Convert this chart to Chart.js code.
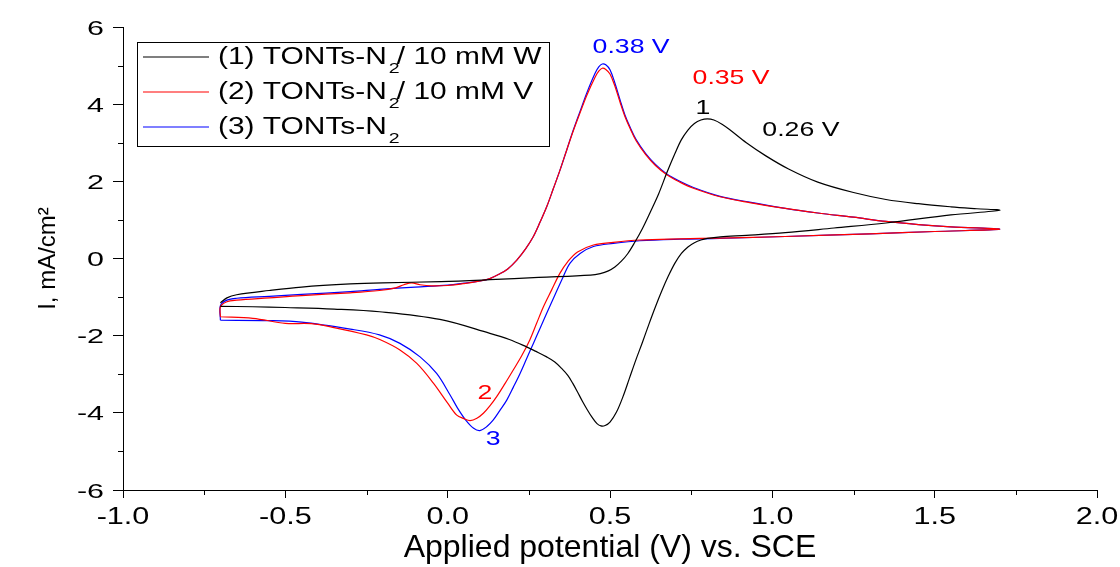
<!DOCTYPE html>
<html>
<head>
<meta charset="utf-8">
<script src="https://cdn.jsdelivr.net/npm/chart.js@4.4.0/dist/chart.umd.min.js"></script>
<style>
  body { margin: 0; background: #fff; }
  #wrap { width: 1120px; height: 567px; }
</style>
</head>
<body>
<div id="wrap"><canvas id="cvChart"></canvas></div>
<script>
// curve 1: TONTs-N2 / 10 mM W (forward scan, then reverse)
const v1 = [-0.70,-0.68,-0.65,-0.55,-0.45,-0.30,-0.20,-0.02,0.13,0.28,
            0.44,0.47,0.495,0.515,0.535,0.555,0.575,0.60,0.625,0.65,
            0.675,0.70,0.72,0.74,0.76,0.78,0.80,0.82,0.845,0.87,
            0.92,0.98,1.05,1.14,1.25,1.35,1.45,1.55,1.63,1.70,
            1.55,1.35,1.19,1.04,0.92,0.84,0.80,0.78,0.76,0.74,
            0.72,0.70,0.68,0.66,0.64,0.62,0.60,0.58,0.56,0.54,
            0.52,0.50,0.485,0.472,0.46,0.445,0.43,0.415,0.40,0.385,
            0.37,0.35,0.33,0.305,0.27,0.243,0.19,0.13,-0.024,-0.21,
            -0.35,-0.50,-0.60,-0.70];
const i1 = [-1.15,-1.02,-0.94,-0.83,-0.74,-0.66,-0.63,-0.60,-0.55,-0.49,
            -0.43,-0.39,-0.32,-0.22,-0.07,0.13,0.40,0.78,1.22,1.68,
            2.22,2.72,3.08,3.33,3.50,3.59,3.62,3.59,3.48,3.33,
            3.00,2.66,2.32,1.98,1.71,1.53,1.42,1.34,1.29,1.25,
            1.13,0.92,0.79,0.67,0.60,0.56,0.52,0.48,0.41,0.30,
            0.13,-0.12,-0.45,-0.83,-1.25,-1.70,-2.17,-2.62,-3.10,-3.58,
            -3.98,-4.24,-4.33,-4.34,-4.28,-4.12,-3.92,-3.70,-3.46,-3.23,
            -3.03,-2.84,-2.68,-2.55,-2.40,-2.29,-2.10,-1.94,-1.58,-1.38,
            -1.31,-1.27,-1.25,-1.24];

// curve 2: TONTs-N2 / 10 mM V
const v2 = [-0.70,-0.70,-0.68,-0.65,-0.55,-0.45,-0.30,-0.21,-0.16,-0.135,
            -0.111,-0.085,-0.05,0.00,0.05,0.10,0.13,0.16,0.185,0.213,
            0.24,0.264,0.285,0.305,0.325,0.346,0.367,0.387,0.408,0.428,
            0.454,0.466,0.476,0.487,0.50,0.515,0.531,0.546,0.562,0.58,
            0.61,0.64,0.675,0.715,0.757,0.839,0.93,1.04,1.14,1.25,
            1.35,1.45,1.55,1.70,
            1.50,1.30,1.04,0.839,0.716,0.592,0.51,0.449,0.40,0.37,
            0.346,0.32,0.295,0.274,0.253,0.228,0.202,0.176,0.151,0.13,
            0.11,0.09,0.069,0.05,0.028,0.00,-0.044,-0.095,-0.147,-0.209,
            -0.25,-0.35,-0.42,-0.50,-0.60,-0.70];
const i2 = [-1.51,-1.25,-1.12,-1.08,-1.02,-0.96,-0.89,-0.83,-0.76,-0.68,
            -0.63,-0.68,-0.71,-0.70,-0.65,-0.58,-0.52,-0.40,-0.27,-0.04,
            0.25,0.57,0.95,1.34,1.80,2.29,2.82,3.31,3.78,4.22,
            4.70,4.86,4.93,4.90,4.78,4.47,4.05,3.68,3.37,3.06,
            2.69,2.41,2.17,1.98,1.82,1.60,1.45,1.30,1.18,1.07,
            0.96,0.88,0.82,0.76,
            0.70,0.64,0.57,0.53,0.51,0.48,0.42,0.35,0.17,-0.08,
            -0.38,-0.82,-1.25,-1.68,-2.11,-2.52,-2.89,-3.25,-3.58,-3.82,
            -4.01,-4.14,-4.20,-4.15,-4.06,-3.75,-3.23,-2.72,-2.37,-2.10,
            -1.98,-1.79,-1.69,-1.68,-1.55,-1.51];

// curve 3: TONTs-N2
const v3 = [-0.70,-0.70,-0.68,-0.65,-0.55,-0.45,-0.30,-0.21,-0.10,0.00,
            0.05,0.10,0.13,0.16,0.185,0.213,0.24,0.264,0.285,0.305,
            0.325,0.346,0.367,0.387,0.408,0.428,0.454,0.466,0.476,0.487,
            0.50,0.515,0.531,0.546,0.562,0.58,0.61,0.64,0.675,0.715,
            0.757,0.839,0.93,1.04,1.14,1.25,1.35,1.45,1.55,1.70,
            1.50,1.30,1.04,0.839,0.716,0.592,0.51,0.449,0.408,0.377,
            0.356,0.33,0.305,0.284,0.264,0.243,0.223,0.202,0.182,0.16,
            0.14,0.12,0.099,0.08,0.055,0.03,0.007,-0.034,-0.085,-0.147,
            -0.21,-0.30,-0.45,-0.55,-0.70];
const i3 = [-1.60,-1.22,-1.08,-1.03,-0.98,-0.93,-0.86,-0.80,-0.74,-0.69,
            -0.64,-0.58,-0.52,-0.40,-0.27,-0.04,0.25,0.57,0.95,1.34,
            1.80,2.29,2.82,3.33,3.82,4.28,4.80,4.97,5.04,5.02,
            4.89,4.55,4.11,3.72,3.40,3.09,2.72,2.44,2.19,2.00,
            1.84,1.61,1.46,1.30,1.18,1.07,0.96,0.88,0.82,0.76,
            0.70,0.64,0.57,0.52,0.50,0.46,0.39,0.31,0.13,-0.12,
            -0.47,-0.95,-1.42,-1.82,-2.20,-2.60,-2.98,-3.34,-3.67,-3.95,
            -4.19,-4.36,-4.46,-4.40,-4.18,-3.87,-3.53,-2.98,-2.55,-2.20,
            -1.98,-1.83,-1.65,-1.61,-1.60];

// legend names: [text, subscript, text after]
const seriesNames = [['(1) TONTs-N', '2', '/ 10 mM W'],
                     ['(2) TONTs-N', '2', '/ 10 mM V'],
                     ['(3) TONTs-N', '2', '']];
const seriesColors = ['#000000', '#ff0000', '#0000ff'];

// peak notes, anchored in data units
const noteText  = ['0.38 V', '0.35 V', '1', '0.26 V', '2', '3'];
const noteV     = [0.565, 0.873, 0.786, 1.088, 0.115, 0.140];
const noteI     = [5.53, 4.73, 3.93, 3.38, -3.46, -4.63];
const noteColor = ['#0000ff', '#ff0000', '#000000', '#000000', '#ff0000', '#0000ff'];

const FONT = '"Liberation Sans", Arial, sans-serif';

function pts(vs, is) {
    return vs.map((v, k) => ({x: v, y: is[k]}));
}

// the original figure uses horizontally stretched Arial
function wideText(ctx, txt, x, y, size, sx, align, color) {
    ctx.save();
    ctx.translate(x, y);
    ctx.scale(sx, 1);
    ctx.font = size + 'px ' + FONT;
    ctx.textAlign = align;
    ctx.textBaseline = 'alphabetic';
    ctx.fillStyle = color;
    ctx.fillText(txt, 0, 0);
    const w = ctx.measureText(txt).width * sx;
    ctx.restore();
    return w;
}

const axisText = {
    id: 'axisText',
    afterDraw(chart) {
        const {ctx, chartArea, scales: {x, y}} = chart;
        ctx.save();
        ctx.strokeStyle = '#000';
        ctx.lineWidth = 1;
        // minor ticks halfway between the major ones
        for (let k = 0; k < y.ticks.length - 1; k++) {
            const py = Math.round(y.getPixelForValue((y.ticks[k].value + y.ticks[k + 1].value) / 2)) + 0.5;
            ctx.beginPath();
            ctx.moveTo(chartArea.left - 5, py);
            ctx.lineTo(chartArea.left, py);
            ctx.stroke();
        }
        for (let k = 0; k < x.ticks.length - 1; k++) {
            const px = Math.round(x.getPixelForValue((x.ticks[k].value + x.ticks[k + 1].value) / 2)) + 0.5;
            ctx.beginPath();
            ctx.moveTo(px, chartArea.bottom);
            ctx.lineTo(px, chartArea.bottom + 5);
            ctx.stroke();
        }
        ctx.restore();

        y.ticks.forEach(t => {
            const py = y.getPixelForValue(t.value);
            wideText(ctx, String(t.value), chartArea.left - 19, py + 7.5, 21, 1.45, 'right', '#000');
        });
        x.ticks.forEach(t => {
            const px = x.getPixelForValue(t.value);
            wideText(ctx, t.value.toFixed(1), px, chartArea.bottom + 34, 23, 1.33, 'center', '#000');
        });

        noteText.forEach((txt, k) => {
            const px = x.getPixelForValue(noteV[k]);
            const py = y.getPixelForValue(noteI[k]);
            wideText(ctx, txt, px, py + 7.5, 21, 1.27, 'center', noteColor[k]);
        });
    }
};

const legendBox = {
    id: 'legendBox',
    afterDraw(chart) {
        const ctx = chart.ctx;
        ctx.save();
        ctx.fillStyle = '#fff';
        ctx.fillRect(137.5, 42.5, 412, 104);
        ctx.strokeStyle = '#000';
        ctx.lineWidth = 1;
        ctx.strokeRect(137.5, 42.5, 412, 104);
        seriesNames.forEach((parts, k) => {
            const y = 57 + k * 35;
            ctx.strokeStyle = seriesColors[k];
            ctx.lineWidth = 1.2;
            ctx.beginPath();
            ctx.moveTo(143, y);
            ctx.lineTo(209, y);
            ctx.stroke();
            const w = wideText(ctx, parts[0], 218, y + 6.5, 23, 1.3, 'left', '#000');
            wideText(ctx, parts[1], 218 + w + 2, y + 16, 15, 1.3, 'left', '#000');
            if (parts[2]) wideText(ctx, parts[2], 218 + w + 10, y + 6.5, 23, 1.3, 'left', '#000');
        });
        ctx.restore();
    }
};

const ctx = document.getElementById('cvChart').getContext('2d');
const cvChart = new Chart(ctx, {
    type: 'scatter',
    data: {
        datasets: [
            {label: '(1)', data: pts(v1, i1), borderColor: seriesColors[0]},
            {label: '(2)', data: pts(v2, i2), borderColor: seriesColors[1]},
            {label: '(3)', data: pts(v3, i3), borderColor: seriesColors[2]}
        ].map(d => Object.assign(d, {showLine: true, pointRadius: 0, borderWidth: 1.2, tension: 0.35}))
    },
    options: {
        responsive: true,
        maintainAspectRatio: false,
        animation: false,
        layout: {padding: {top: 27, right: 23, left: 0, bottom: 0}},
        plugins: {legend: {display: false}, tooltip: {enabled: false}},
        scales: {
            x: {
                type: 'linear',
                min: -1, max: 2,
                ticks: {stepSize: 0.5, display: false},
                grid: {drawOnChartArea: false, drawTicks: true, tickLength: 8, tickColor: '#000'},
                border: {display: true, color: '#000', width: 1},
                title: {display: true, text: 'Applied potential (V) vs. SCE', color: '#000',
                        font: {family: FONT, size: 32}, padding: {top: 0, bottom: 0}},
                afterFit(scale) { scale.height = 77; }
            },
            y: {
                min: -6, max: 6,
                ticks: {stepSize: 2, display: false},
                grid: {drawOnChartArea: false, drawTicks: true, tickLength: 10, tickColor: '#000'},
                border: {display: true, color: '#000', width: 1},
                title: {display: true, text: 'I, mA/cm²', color: '#000',
                        font: {family: FONT, size: 24}, padding: {top: 34, bottom: 0}},
                afterFit(scale) { scale.width = 123; }
            }
        }
    },
    plugins: [axisText, legendBox]
});
</script>
</body>
</html>
